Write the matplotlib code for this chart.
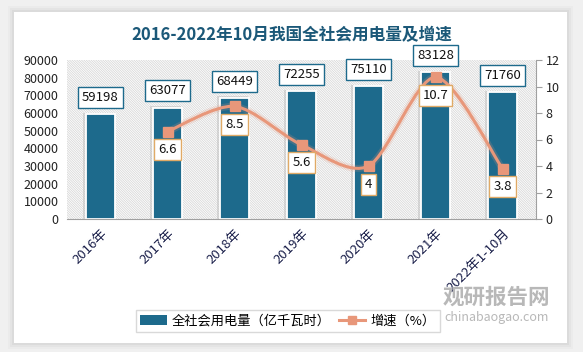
import numpy as np
import matplotlib
matplotlib.use("Agg")
import matplotlib.pyplot as plt
from matplotlib.patches import Rectangle, PathPatch
from matplotlib.path import Path
from matplotlib.lines import Line2D

plt.rcParams['font.family'] = ['Noto Sans CJK SC', 'DejaVu Sans']
plt.rcParams['hatch.linewidth'] = 0.6

# 数据
years = ["2016年", "2017年", "2018年", "2019年", "2020年", "2021年", "2022年1-10月"]
power = [59198, 63077, 68449, 72255, 75110, 83128, 71760]
growth_idx = [1, 2, 3, 4, 5, 6]
growth = [6.6, 8.5, 5.6, 4, 10.7, 3.8]

bar_c = "#1d6a8c"
line_c = "#e8977a"

W, H = 583, 352
fig = plt.figure(figsize=(W / 100, H / 100), dpi=100)
fig.patch.set_facecolor("#f0f0f0")

# 卡片阴影 + 白色面板
px, py, pw, ph = 14, 12, 553, 331
for k, a in [(6, 0.05), (4, 0.07), (2, 0.1)]:
    fig.add_artist(Rectangle(((px - k) / W, 1 - (py + ph + k) / H), (pw + 2 * k) / W, (ph + 2 * k) / H,
                             transform=fig.transFigure, facecolor="#909090", alpha=a, lw=0, zorder=-3))
fig.add_artist(Rectangle((px / W, 1 - (py + ph) / H), pw / W, ph / H,
                         transform=fig.transFigure, facecolor="white", lw=0, zorder=-2))

ax = fig.add_axes([67 / W, 1 - 219 / H, (536 - 67) / W, 159 / H])
ax.set_facecolor("none")
ax.add_patch(Rectangle((0, 0), 1, 1, transform=ax.transAxes, facecolor="white",
                       edgecolor="#d8d8d8", hatch="\\" * 14, lw=0, zorder=0))

x = np.arange(len(years))
ax.bar(x - 0.03, np.array(power) + 900, width=0.47, color="#bdbdbd", alpha=0.5, zorder=2)
ax.bar(x, power, width=0.42, color=bar_c, edgecolor="white", linewidth=1.3, zorder=3)
ax.set_xlim(-0.5, 6.5)
ax.set_ylim(0, 90000)
ax.set_yticks(range(0, 90001, 10000))
for s in ["left", "top", "right"]:
    ax.spines[s].set_visible(False)
ax.spines["bottom"].set_color("#a0a0a0")
ax.spines["bottom"].set_zorder(4)
ax.tick_params(axis="y", length=0, labelsize=9, colors="#222222", pad=6)
ax.tick_params(axis="x", length=0, pad=6)
ax.set_xticks(x)
ax.set_xticklabels(years, rotation=45, ha="right", va="top", rotation_mode="anchor",
                   fontsize=9.5, color="#1a1f4a")

for xi, v in zip(x, power):
    ax.annotate(str(v), (xi, v), xytext=(0, 12), textcoords="offset points",
                ha="center", va="center", fontsize=9.5, color="#111111", zorder=6,
                bbox=dict(boxstyle="square,pad=0.3", fc="white", ec=bar_c, lw=1))

ax2 = ax.twinx()
ax2.set_ylim(0, 12)
ax2.set_yticks(range(0, 13, 2))
for s in ["left", "top", "bottom"]:
    ax2.spines[s].set_visible(False)
ax2.spines["right"].set_color("#a0a0a0")
ax2.tick_params(axis="y", direction="out", length=4, color="#a0a0a0", labelsize=9,
                labelcolor="#222222", pad=3)

# 平滑曲线（Catmull-Rom 转贝塞尔）
gx = np.array(growth_idx, dtype=float)
gy = np.array(growth, dtype=float)
pts = np.column_stack([gx, gy])
verts = [pts[0]]
codes = [Path.MOVETO]
for i in range(len(pts) - 1):
    p0 = pts[i - 1] if i > 0 else pts[i]
    p1, p2 = pts[i], pts[i + 1]
    p3 = pts[i + 2] if i + 2 < len(pts) else pts[i + 1]
    verts += [p1 + (p2 - p0) / 7, p2 - (p3 - p1) / 7, p2]
    codes += [Path.CURVE4] * 3
path = Path(verts, codes)
ax2.add_patch(PathPatch(path, fc="none", ec=line_c, lw=5, alpha=0.2, zorder=4))
ax2.add_patch(PathPatch(path, fc="none", ec=line_c, lw=2.2, zorder=5))
ax2.plot(gx, gy, ls="none", marker="s", ms=7, color=line_c, zorder=6)

for xi, v in zip(gx, gy):
    ax2.annotate(f"{v:g}", (xi, v), xytext=(0, -13), textcoords="offset points",
                 ha="center", va="center", fontsize=9.5, color="#111111", zorder=7,
                 bbox=dict(boxstyle="square,pad=0.3", fc="white", ec="#e0aa66", lw=1))

fig.text(0.5, 1 - 35 / H, "2016-2022年10月我国全社会用电量及增速", ha="center", va="center",
         fontsize=12, fontweight="bold", color="#1b5878")

# 水印
fig.text(496 / W, 1 - 297 / H, "观研报告网", ha="center", va="center", fontsize=15.5,
         fontweight="bold", color="#b8b8b8")
fig.text(497 / W, 1 - 318 / H, "chinabaogao.com", ha="center", va="center", fontsize=9,
         color="#b8b8b8")

handles = [Rectangle((0, 0), 1, 1, fc=bar_c, ec="none"),
           Line2D([0], [0], color=line_c, lw=2.2, marker="s", ms=6)]
leg = fig.legend(handles, ["全社会用电量（亿千瓦时）", "增速（%）"], loc="center",
                 bbox_to_anchor=(288 / W, 1 - 321 / H), ncol=2, fontsize=9.5, frameon=True,
                 fancybox=False, edgecolor="#d0d0d0", handlelength=2.0, columnspacing=0.6,
                 handletextpad=0.4, borderpad=0.35)
leg.get_frame().set_linewidth(1)

fig.savefig("out.png", dpi=100, facecolor=fig.get_facecolor())
